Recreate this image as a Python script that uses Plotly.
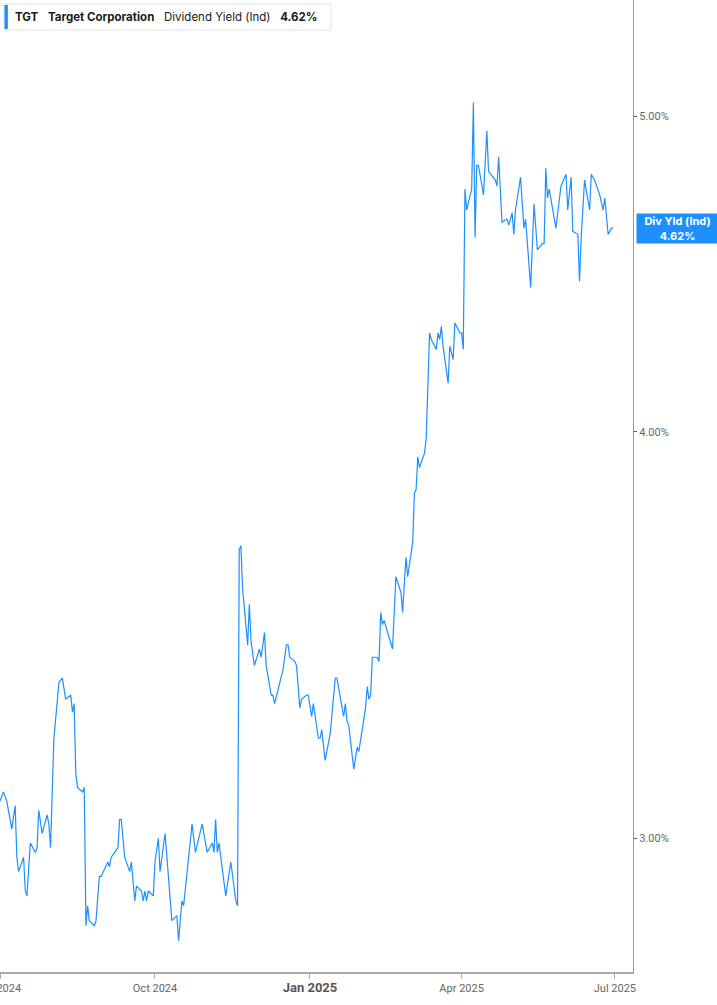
import plotly.graph_objects as go

# dividend yield (%)
dates = [
    "2024-07-01", "2024-07-03", "2024-07-05", "2024-07-08", "2024-07-10", "2024-07-11",
    "2024-07-12", "2024-07-15", "2024-07-16", "2024-07-17", "2024-07-19", "2024-07-22",
    "2024-07-23", "2024-07-24", "2024-07-26", "2024-07-29", "2024-07-30", "2024-07-31",
    "2024-08-02", "2024-08-03", "2024-08-05", "2024-08-07", "2024-08-09", "2024-08-12",
    "2024-08-13", "2024-08-14", "2024-08-15", "2024-08-16", "2024-08-19", "2024-08-20",
    "2024-08-21", "2024-08-22", "2024-08-23", "2024-08-26", "2024-08-27", "2024-08-29",
    "2024-08-30", "2024-09-03", "2024-09-04", "2024-09-05", "2024-09-09", "2024-09-10",
    "2024-09-11", "2024-09-13", "2024-09-16", "2024-09-17", "2024-09-19", "2024-09-20",
    "2024-09-23", "2024-09-24", "2024-09-25", "2024-09-26", "2024-09-27", "2024-09-30",
    "2024-10-01", "2024-10-03", "2024-10-04", "2024-10-07", "2024-10-09", "2024-10-11",
    "2024-10-14", "2024-10-15", "2024-10-17", "2024-10-18", "2024-10-23", "2024-10-25",
    "2024-10-29", "2024-11-01", "2024-11-04", "2024-11-05", "2024-11-06", "2024-11-07",
    "2024-11-08", "2024-11-12", "2024-11-15", "2024-11-18", "2024-11-19", "2024-11-20",
    "2024-11-21", "2024-11-22", "2024-11-25", "2024-11-26", "2024-11-27", "2024-11-29",
    "2024-12-02", "2024-12-03", "2024-12-05", "2024-12-06", "2024-12-09", "2024-12-10",
    "2024-12-11", "2024-12-16", "2024-12-18", "2024-12-19", "2024-12-20", "2024-12-23",
    "2024-12-24", "2024-12-26", "2024-12-27", "2024-12-30", "2024-12-31", "2025-01-02",
    "2025-01-03", "2025-01-06", "2025-01-07", "2025-01-08", "2025-01-10", "2025-01-13",
    "2025-01-16", "2025-01-17", "2025-01-21", "2025-01-22", "2025-01-23", "2025-01-24",
    "2025-01-27", "2025-01-29", "2025-01-30", "2025-02-03", "2025-02-04", "2025-02-05",
    "2025-02-06", "2025-02-07", "2025-02-10", "2025-02-11", "2025-02-12", "2025-02-13",
    "2025-02-14", "2025-02-19", "2025-02-21", "2025-02-24", "2025-02-25", "2025-02-27",
    "2025-02-28", "2025-03-03", "2025-03-04", "2025-03-05", "2025-03-06", "2025-03-07",
    "2025-03-10", "2025-03-11", "2025-03-13", "2025-03-14", "2025-03-17", "2025-03-18",
    "2025-03-19", "2025-03-20", "2025-03-21", "2025-03-24", "2025-03-25", "2025-03-27",
    "2025-03-28", "2025-03-31", "2025-04-01", "2025-04-02", "2025-04-03", "2025-04-04",
    "2025-04-07", "2025-04-08", "2025-04-09", "2025-04-10", "2025-04-11", "2025-04-14",
    "2025-04-16", "2025-04-17", "2025-04-21", "2025-04-22", "2025-04-23", "2025-04-25",
    "2025-04-28", "2025-04-29", "2025-05-01", "2025-05-02", "2025-05-03", "2025-05-06",
    "2025-05-08", "2025-05-09", "2025-05-12", "2025-05-14", "2025-05-16", "2025-05-19",
    "2025-05-20", "2025-05-21", "2025-05-22", "2025-05-23", "2025-05-27", "2025-05-30",
    "2025-06-02", "2025-06-03", "2025-06-05", "2025-06-06", "2025-06-09", "2025-06-10",
    "2025-06-11", "2025-06-13", "2025-06-16", "2025-06-17", "2025-06-19", "2025-06-22",
    "2025-06-24", "2025-06-25", "2025-06-27", "2025-06-29", "2025-06-30",
]
div_yield = [
    3.08, 3.10, 3.08, 3.02, 3.07, 2.96,
    2.93, 2.96, 2.89, 2.88, 2.99, 2.97,
    2.98, 3.06, 3.01, 3.05, 3.03, 2.98,
    3.22, 3.27, 3.35, 3.36, 3.31, 3.32,
    3.28, 3.30, 3.14, 3.11, 3.10, 3.11,
    2.82, 2.86, 2.83, 2.82, 2.83, 2.92,
    2.92, 2.95, 2.94, 2.96, 2.98, 3.04,
    3.04, 2.96, 2.93, 2.95, 2.87, 2.90,
    2.89, 2.87, 2.89, 2.87, 2.89, 2.88,
    2.95, 3.00, 2.93, 3.01, 2.91, 2.83,
    2.84, 2.79, 2.87, 2.86, 3.03, 2.97,
    3.03, 2.97, 2.99, 2.97, 3.04, 2.97,
    2.99, 2.88, 2.95, 2.87, 2.86, 3.68,
    3.69, 3.58, 3.44, 3.54, 3.45, 3.39,
    3.43, 3.41, 3.47, 3.39, 3.32, 3.32,
    3.30, 3.38, 3.44, 3.44, 3.41, 3.40,
    3.39, 3.29, 3.31, 3.32, 3.32, 3.27,
    3.30, 3.22, 3.22, 3.24, 3.17, 3.23,
    3.36, 3.36, 3.27, 3.30, 3.26, 3.25,
    3.15, 3.20, 3.19, 3.29, 3.34, 3.31,
    3.32, 3.41, 3.41, 3.40, 3.52, 3.49,
    3.50, 3.43, 3.61, 3.57, 3.52, 3.66,
    3.61, 3.70, 3.83, 3.84, 3.93, 3.90,
    3.94, 3.98, 4.29, 4.27, 4.24, 4.29,
    4.27, 4.31, 4.25, 4.14, 4.25, 4.21,
    4.32, 4.29, 4.29, 4.24, 4.75, 4.68,
    4.75, 5.05, 4.59, 4.83, 4.83, 4.73,
    4.95, 4.81, 4.78, 4.76, 4.86, 4.64,
    4.65, 4.63, 4.67, 4.60, 4.68, 4.79,
    4.62, 4.65, 4.43, 4.70, 4.55, 4.57,
    4.57, 4.82, 4.72, 4.75, 4.62, 4.76,
    4.80, 4.68, 4.79, 4.61, 4.60, 4.45,
    4.59, 4.78, 4.68, 4.80, 4.78, 4.73,
    4.68, 4.72, 4.60, 4.62, 4.62,
]

x_tickvals = ["2024-07-01", "2024-10-01", "2025-01-01", "2025-04-01", "2025-07-01"]
x_ticktext = ["Jul 2024", "Oct 2024",
              "<span style='font-size:13px;color:#555'><b>Jan 2025</b></span>",
              "Apr 2025", "Jul 2025"]
y_tickvals = [3, 4, 5]
y_ticktext = ["3.00%", "4.00%", "5.00%"]

blue = "#1E8FFF"
last = div_yield[-1]

fig = go.Figure()
fig.add_trace(go.Scatter(
    x=dates, y=div_yield, mode="lines",
    line=dict(color=blue, width=1.2),
    name="Dividend Yield (Ind)", showlegend=False,
))

fig.update_xaxes(
    type="date",
    range=["2024-07-01", "2025-07-11 18:00"],
    tickvals=x_tickvals, ticktext=x_ticktext,
    ticklabeloverflow="allow", automargin=False,
    showgrid=False, zeroline=False,
    showline=True, linecolor="#aaaaaa", linewidth=1.5,
    ticks="outside", ticklen=5, tickcolor="#aaaaaa",
    tickfont=dict(family="Roboto", size=11, color="#666666"),
)
fig.update_yaxes(
    type="log", side="right",
    range=[0.4360, 0.7348],
    tickvals=y_tickvals, ticktext=y_ticktext,
    automargin=False,
    showgrid=False, zeroline=False,
    showline=True, linecolor="#999999", linewidth=1,
    ticks="outside", ticklen=3, tickcolor="#555555",
    tickfont=dict(family="Roboto", size=11, color="#666666"),
)

# legend-like header box
fig.add_shape(type="rect", xref="paper", yref="paper",
              x0=0.0063, x1=0.5229, y0=0.9691, y1=0.9959,
              line=dict(color="#e3e3e3", width=1), fillcolor="white", layer="above")
fig.add_shape(type="rect", xref="paper", yref="paper",
              x0=0.0071, x1=0.0124, y0=0.9702, y1=0.9949,
              line=dict(width=0), fillcolor=blue, layer="above")
fig.add_annotation(
    xref="paper", yref="paper", x=0.021, y=0.9825,
    xanchor="left", yanchor="middle", showarrow=False,
    text="<b>TGT</b>\u00a0\u00a0\u00a0<b>Target Corporation</b>\u00a0\u00a0\u00a0"
         "Dividend Yield (Ind)\u00a0\u00a0\u00a0<b>%.2f%%</b>" % last,
    font=dict(family="Inter", size=11.5, color="#1a1a1a"),
)

# current value tag on the right axis
fig.add_annotation(
    xref="paper", yref="y", x=1, y=0.6646, xshift=3,
    xanchor="left", yanchor="middle", showarrow=False,
    text="<b>Div Yld (Ind)<br>%.2f%%</b>" % last,
    width=77, height=25, bgcolor=blue, borderpad=2,
    font=dict(family="Inter", size=11, color="white"),
)

fig.update_layout(
    width=717, height=1005,
    margin=dict(l=0, r=84, t=0, b=33),
    paper_bgcolor="white", plot_bgcolor="white",
    hovermode=False,
)

fig.write_html("out.html", config={"displayModeBar": False},
               post_script="document.body.style.margin='0';")
